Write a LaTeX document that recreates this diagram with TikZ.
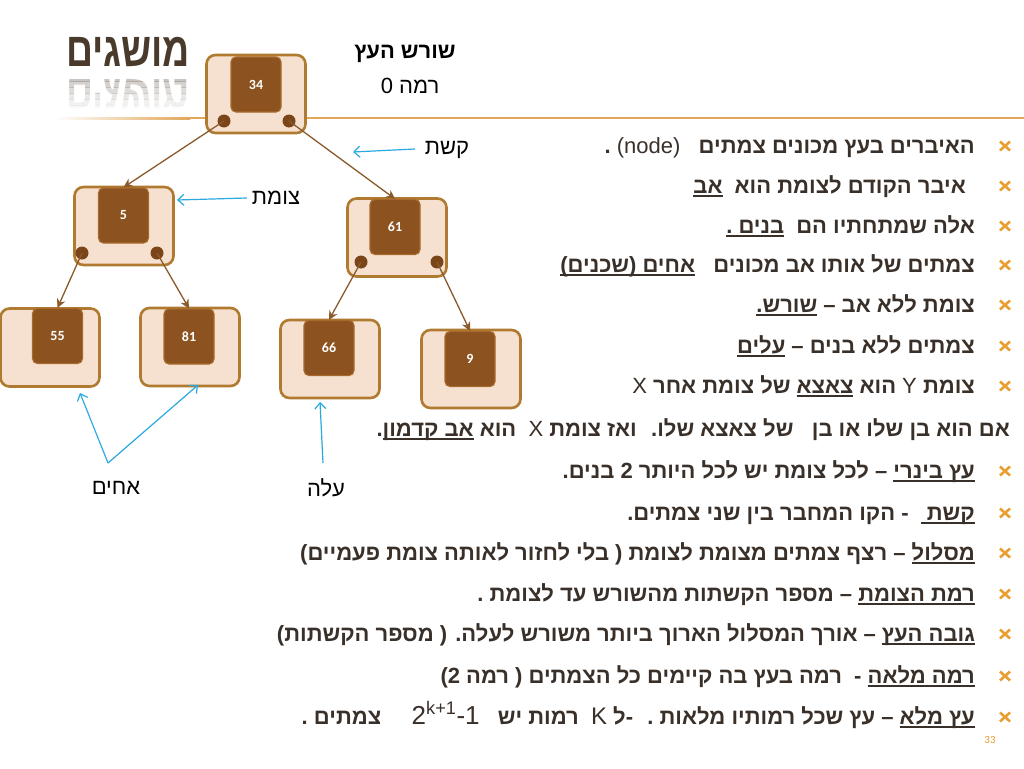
\documentclass[tikz,border=0pt]{standalone}
\usepackage{fontspec}
\setmainfont{Liberation Sans}
\newfontfamily\heb[Script=Hebrew]{Liberation Sans}
\newfontfamily\latfont{Liberation Sans}
\newfontfamily\numfont{Carlito}
\TeXXeTstate=1
\usetikzlibrary{arrows.meta}
\definecolor{boxfill}{HTML}{F6E1D0}
\definecolor{boxline}{HTML}{B07A30}
\definecolor{innerfill}{HTML}{8C5220}
\definecolor{innerline}{HTML}{A86A2C}
\definecolor{dotc}{HTML}{7A4519}
\definecolor{edgec}{HTML}{8A5A2C}
\definecolor{bluec}{HTML}{2AA8E0}
\definecolor{titlec}{HTML}{4A3A2C}
\definecolor{reflc}{HTML}{8A8078}
\definecolor{textc}{HTML}{3A302A}
\definecolor{rulec}{HTML}{E2A65A}
\definecolor{bulletc}{HTML}{EA9E32}
\newcommand\ul[1]{\setbox0=\hbox{\beginR#1\endR}\hbox{\rlap{\vrule height -2.4pt depth 3.8pt width \wd0}\box0}}
\newcommand\lat[1]{\beginL{\latfont\mdseries #1}\endL}
\newcommand\nb{\char"00A0 }
\tikzset{
  outerbox/.style={draw=boxline, fill=boxfill, line width=2.6pt, rounded corners=9pt, inner sep=0pt, minimum width=99pt, minimum height=78pt},
  innerbox/.style={draw=innerline, fill=innerfill, line width=1.2pt, rounded corners=5pt, inner sep=0pt, minimum width=50pt, minimum height=55pt, text=white, font=\numfont\bfseries\fontsize{14}{14}\selectfont},
  dotnode/.style={circle, fill=dotc, inner sep=0pt, minimum size=13pt},
  edgearrow/.style={draw=edgec, line width=1.3pt, -{Stealth[length=9pt,width=9pt,inset=3pt]}},
  bluearrow/.style={draw=bluec, line width=1.2pt, -{Straight Barb[length=6pt,width=11pt]}},
  lbl/.style={inner sep=0pt, font=\heb\fontsize{22}{22}\selectfont, text=black},
  txt/.style={inner sep=0pt, anchor=base east, font=\heb\bfseries\fontsize{22}{22}\selectfont, text=textc},
  bulletmark/.style={draw=bulletc, line width=2.6pt},
}
\begin{document}
\begin{tikzpicture}[x=1pt,y=-1pt]
\useasboundingbox (0,0) rectangle (1024,768);
\fill[white] (0,0) rectangle (1024,768);
% title
\node[inner sep=0pt, text=titlec, font=\heb\bfseries\fontsize{48}{48}\selectfont, xscale=0.78] (title) at (128,52) {\beginR מושגים\endR};
\foreach \i/\op in {0/0.45,1/0.36,2/0.27,3/0.18,4/0.11,5/0.05}{
  \begin{scope}
  \clip (50,{75+6*\i}) rectangle (210,{81+6*\i});
  \node[inner sep=0pt, text=reflc, opacity=\op, font=\heb\bfseries\fontsize{48}{48}\selectfont, xscale=0.78, yscale=-1] (refl\i) at (128,{52+42}) {\beginR מושגים\endR};
  \end{scope}
}
% rule
\shade[left color=white, right color=rulec] (55,117) rectangle (190,119);
\fill[rulec] (190,117) rectangle (1024,119);
% heading
\node[lbl, font=\heb\bfseries\fontsize{22}{22}\selectfont] (rootlbl) at (405,54) {\beginR שורש העץ\endR};
\node[lbl] (lvl0) at (410,86) {\beginR רמה 0\endR};
% tree nodes
\node[outerbox] (o34) at (256,94) {};
\node[innerbox] (i34) at (256,84.5) {34};
\node[dotnode] (d34l) at (224,121) {};
\node[dotnode] (d34r) at (289,121) {};
\node[outerbox] (o5) at (124,226) {};
\node[innerbox] (i5) at (123.5,215.5) {5};
\node[dotnode] (d5l) at (82,253) {};
\node[dotnode] (d5r) at (157,253) {};
\node[outerbox] (o61) at (397,237.5) {};
\node[innerbox] (i61) at (395,227) {61};
\node[dotnode] (d61l) at (361,262) {};
\node[dotnode] (d61r) at (437,262) {};
\node[outerbox] (o55) at (50,347.5) {};
\node[innerbox] (i55) at (57.5,336) {55};
\node[outerbox] (o81) at (190,347) {};
\node[innerbox] (i81) at (189,336.5) {81};
\node[outerbox] (o66) at (330,359) {};
\node[innerbox] (i66) at (329,348) {66};
\node[outerbox] (o9) at (471,369) {};
\node[innerbox] (i9) at (470,359) {9};
% edges
\draw[edgearrow] (d34l.center) -- (i5.north);
\draw[edgearrow] (d34r.center) -- (i61.north);
\draw[edgearrow] (d5l.center) -- (i55.north);
\draw[edgearrow] (d5r.center) -- (i81.north);
\draw[edgearrow] (d61l.center) -- (i66.north);
\draw[edgearrow] (d61r.center) -- (i9.north);
% labels with blue arrows
\node[lbl] (kesht) at (447,150) {\beginR קשת\endR};
\coordinate (keshtTip) at (353,152);
\draw[bluearrow] (415,149) -- (keshtTip);
\node[lbl] (tzomet) at (276,198) {\beginR צומת\endR};
\coordinate (tzometTip) at (177,200);
\draw[bluearrow] (tzomet.west) ++(-5,0) -- (tzometTip);
\node[lbl] (achim) at (116,488) {\beginR אחים\endR};
\coordinate (achimApex) at (108,463);
\coordinate (achimTipA) at (80,393);
\coordinate (achimTipB) at (198,385);
\draw[bluearrow] (achimApex) -- (achimTipA);
\draw[bluearrow] (achimApex) -- (achimTipB);
\node[lbl] (ale) at (326,488) {\beginR עלה\endR};
\coordinate (aleBase) at (323,463);
\coordinate (aleTip) at (320,402);
\draw[bluearrow] (aleBase) -- (aleTip);
% bullets
\foreach \y [count=\k] in {146,186,226,265,305,346,386,471,513,553,594,634,676,717}{
  \draw[bulletmark] (1000,\y-4.5) -- (1010,\y+4.5) (1000,\y+4.5) -- (1010,\y-4.5);
}
\node[txt] (t1) at (975,153) {\beginR האיברים בעץ מכונים צמתים \ \ \lat{(node)} .\endR};
\node[txt] (t2) at (966,193) {\beginR איבר הקודם לצומת הוא \ \ul{אב}\endR};
\node[txt] (t3) at (975,233) {\beginR אלה שמתחתיו הם \ \ul{בנים .}\endR};
\node[txt] (t4) at (975,272) {\beginR צמתים של אותו אב מכונים \ \ \ul{אחים (שכנים)}\endR};
\node[txt] (t5) at (975,312) {\beginR צומת ללא אב – \ul{שורש.}\endR};
\node[txt] (t6) at (975,353) {\beginR צמתים ללא בנים – \ul{עלים}\endR};
\node[txt] (t7) at (975,393) {\beginR צומת \lat{Y} הוא \ul{צאצא} של צומת אחר \lat{X}\endR};
\node[txt] (t8) at (1010,436) {\beginR אם הוא בן שלו או בן \ \ של צאצא שלו. \ ואז צומת \lat{X} \ הוא \ul{אב קדמון}.\endR};
\node[txt] (t9) at (975,478) {\beginR \ul{עץ בינרי} – לכל צומת יש לכל היותר 2 בנים.\endR};
\node[txt] (t10) at (975,520) {\beginR \ul{קשת\ } \ - הקו המחבר בין שני צמתים.\endR};
\node[txt] (t11) at (975,560) {\beginR \ul{מסלול} – רצף צמתים מצומת לצומת (\nb בלי לחזור לאותה צומת פעמיים)\endR};
\node[txt] (t12) at (975,601) {\beginR \ul{רמת הצומת} – מספר הקשתות מהשורש עד לצומת .\endR};
\node[txt] (t13) at (975,641) {\beginR \ul{גובה העץ} – אורך המסלול הארוך ביותר משורש לעלה. (\nb מספר הקשתות)\endR};
\node[txt] (t14) at (975,683) {\beginR \ul{רמה מלאה} - \ רמה בעץ בה קיימים כל הצמתים (\nb רמה\nb 2)\endR};
\node[txt] (t15) at (975,724) {\beginR \ul{עץ מלא} – עץ שכל רמותיו מלאות . \ -ל \lat{\fontsize{24}{24}\selectfont K} \ רמות יש \ \ \lat{\fontsize{26}{26}\selectfont 2\textsuperscript{k+1}-1} \ \ \ \ צמתים .\endR};
\node[inner sep=0pt, text=bulletc, font=\numfont\fontsize{11}{11}\selectfont] (pagenum) at (990,740) {33};
\end{tikzpicture}
\end{document}
